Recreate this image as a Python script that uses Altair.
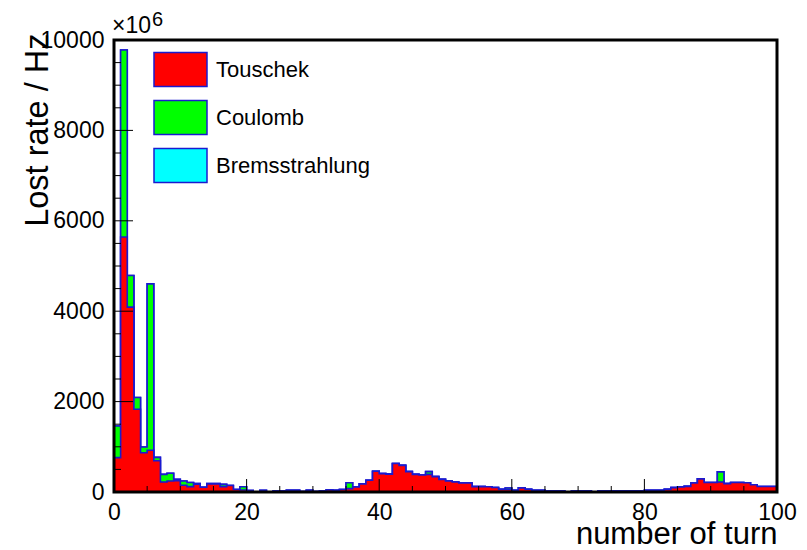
import altair as alt
import pandas as pd

# ---------------- data ----------------
# 100 one-turn bins, 0..100 ; values are raw lost-rate counts (x10^6 Hz)
TOUSCHEK = [
    760, 5640, 4090, 1830, 870, 925, 690, 220, 245, 250,
    150, 120, 170, 105, 180, 180, 118, 145, 55, 45,
    30, 5, 0, 5, 20, 20, 35, 35, 10, 35,
    10, 20, 45, 35, 55, 75, 110, 180, 260, 460,
    407, 395, 630, 590, 450, 390, 375, 390, 340, 280,
    245, 222, 200, 200, 118, 118, 115, 100, 59, 55,
    40, 92, 62, 37, 35, 20, 20, 20, 0, 20,
    20, 20, 0, 20, 20, 20, 20, 20, 20, 20,
    37, 37, 37, 59, 96, 110, 125, 200, 290, 210,
    210, 220, 185, 210, 210, 205, 160, 122, 122, 122,
]
COULOMB = [
    700, 4140, 700, 260, 125, 3680, 75, 170, 170, 30,
    95, 90, 15, 0, 5, 5, 50, 0, 0, 70,
    0, 0, 40, 0, 0, 0, 0, 0, 0, 0,
    0, 0, 0, 0, 0, 130, 0, 0, 0, 0,
    0, 0, 0, 0, 0, 0, 0, 60, 0, 0,
    0, 0, 0, 0, 0, 0, 0, 0, 0, 35,
    0, 0, 0, 0, 0, 0, 0, 0, 0, 0,
    0, 0, 0, 0, 0, 0, 0, 0, 0, 0,
    0, 0, 0, 0, 0, 0, 0, 0, 0, 0,
    0, 225, 0, 0, 0, 0, 0, 0, 0, 0,
]
BREMS = [
    0, 0, 0, 0, 0, 0, 0, 0, 0, 0,
    0, 0, 0, 0, 0, 0, 0, 0, 0, 0,
    0, 0, 0, 0, 0, 0, 0, 0, 0, 0,
    0, 0, 0, 0, 0, 0, 0, 0, 0, 0,
    0, 0, 0, 0, 0, 0, 0, 0, 0, 0,
    0, 0, 0, 0, 0, 0, 0, 0, 0, 0,
    0, 0, 0, 0, 0, 0, 0, 0, 0, 0,
    0, 0, 0, 0, 0, 0, 0, 0, 0, 0,
    0, 0, 0, 0, 0, 0, 0, 0, 0, 0,
    0, 0, 0, 0, 0, 0, 0, 0, 0, 0,
]
SERIES = ["Touschek", "Coulomb", "Bremsstrahlung"]
COLORS = ["#ff0000", "#00ff00", "#00ffff"]

X_LABELS = [0, 20, 40, 60, 80, 100]
X_MINOR = [5, 10, 15, 25, 30, 35, 45, 50, 55, 65, 70, 75, 85, 90, 95]
Y_LABELS = [0, 2000, 4000, 6000, 8000, 10000]
Y_MINOR = [500, 1000, 1500, 2500, 3000, 3500, 4500, 5000, 5500,
           6500, 7000, 7500, 8500, 9000, 9500]

# ---------------- build table ----------------
n = len(TOUSCHEK)
edges = list(range(n + 1))
t = [float(v) for v in TOUSCHEK]
tc = [a + b for a, b in zip(TOUSCHEK, COULOMB)]
tcb = [a + b + c for a, b, c in zip(TOUSCHEK, COULOMB, BREMS)]
df = pd.DataFrame({
    "turn": edges,
    "t": t + [t[-1]],
    "tc": tc + [tc[-1]],
    "tcb": tcb + [tcb[-1]],
})

W, H = 663, 452
FONT = "Liberation Sans"
BLUE = "#1a1ad0"

xs = alt.Scale(domain=[0, 100], nice=False, zero=False)
ys = alt.Scale(domain=[0, 10000], nice=False)
cs = alt.Scale(domain=SERIES, range=COLORS)

legend = alt.Legend(
    title=None, orient="none", legendX=39, legendY=2,
    symbolType="M-1,-0.64L1,-0.64L1,0.64L-1,0.64Z", symbolSize=2809,
    symbolStrokeColor=BLUE, symbolStrokeWidth=1.5, symbolOpacity=1,
    labelFont=FONT, labelFontSize=22, labelColor="black", labelOffset=8,
    rowPadding=0, padding=0,
)

xaxis = alt.Axis(
    values=X_LABELS, format="d", ticks=False, tickSize=0, domain=False, grid=False,
    labelFont=FONT, labelFontSize=23, labelColor="black", labelPadding=9,
    labelFlush=False, labelOverlap=False,
    title="number of turn", titleFont=FONT, titleFontSize=31, titleFontWeight="normal",
    titleColor="black", titleAlign="right", titleBaseline="alphabetic",
    titleX=W, titleY=51,
)
yaxis = alt.Axis(
    values=Y_LABELS, format="d", ticks=False, tickSize=0, domain=False, grid=False,
    labelFont=FONT, labelFontSize=23, labelColor="black", labelPadding=10,
    labelOverlap=False,
    title="Lost rate / Hz", titleFont=FONT, titleFontSize=32.5, titleFontWeight="normal",
    titleColor="black", titleAngle=270, titleAlign="right", titleBaseline="alphabetic",
    titleX=-67, titleY=-7,
)

base = alt.Chart(df)


def area(field, name):
    return base.transform_calculate(series=f"'{name}'").mark_area(
        interpolate="step-after", stroke=BLUE, strokeWidth=1.6, opacity=1
    ).encode(
        x=alt.X("turn:Q", scale=xs, axis=xaxis),
        y=alt.Y(f"{field}:Q", scale=ys, axis=yaxis),
        color=alt.Color("series:N", scale=cs, legend=legend),
    )


layers = [
    area("tcb", "Bremsstrahlung"),
    area("tc", "Coulomb"),
    area("t", "Touschek"),
]

xmaj = alt.Chart(pd.DataFrame({"v": X_LABELS})).mark_rule(color="black", strokeWidth=1).encode(
    x=alt.X("v:Q", scale=xs, axis=xaxis), y=alt.value(H), y2=alt.value(H - 13))
xmin = alt.Chart(pd.DataFrame({"v": X_MINOR})).mark_rule(color="black", strokeWidth=1).encode(
    x=alt.X("v:Q", scale=xs, axis=xaxis), y=alt.value(H), y2=alt.value(H - 6))
ymaj = alt.Chart(pd.DataFrame({"v": Y_LABELS})).mark_rule(color="black", strokeWidth=1).encode(
    y=alt.Y("v:Q", scale=ys, axis=yaxis), x=alt.value(0), x2=alt.value(19))
ymin = alt.Chart(pd.DataFrame({"v": Y_MINOR})).mark_rule(color="black", strokeWidth=1).encode(
    y=alt.Y("v:Q", scale=ys, axis=yaxis), x=alt.value(0), x2=alt.value(7))

one = pd.DataFrame({"a": [0]})
frame = alt.Chart(one).mark_rect(fillOpacity=0, stroke="black", strokeWidth=3).encode(
    x=alt.XDatum(0, scale=xs, axis=xaxis), x2=alt.X2Datum(100),
    y=alt.YDatum(0, scale=ys, axis=yaxis), y2=alt.Y2Datum(10000),
)

mult = alt.Chart(one).mark_text(text="×10", align="left", baseline="alphabetic",
                                font=FONT, fontSize=23, color="black").encode(
    x=alt.value(-2), y=alt.value(-7))
expo = alt.Chart(one).mark_text(text="6", align="left", baseline="alphabetic",
                                font=FONT, fontSize=20, color="black").encode(
    x=alt.value(38), y=alt.value(-14))

chart = alt.layer(*layers, xmaj, xmin, ymaj, ymin, frame, mult, expo).properties(
    width=W, height=H,
    autosize=alt.AutoSizeParams(type="none"),
    padding={"left": 114, "top": 40, "right": 30, "bottom": 58},
    background="white",
).configure_view(stroke="transparent")

chart.save("out.html", embed_options={"renderer": "svg", "actions": False})
